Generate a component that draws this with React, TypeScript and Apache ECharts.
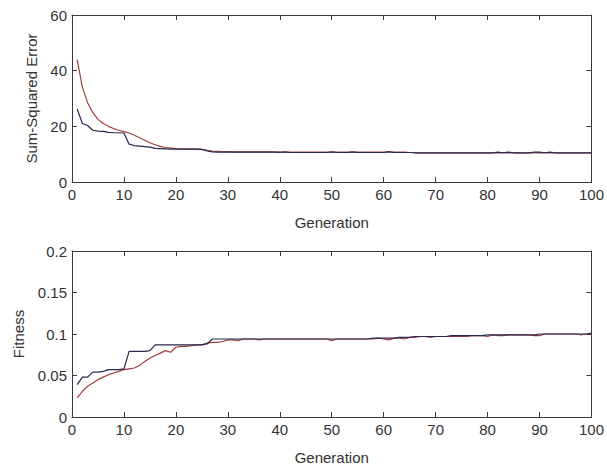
import React, { useEffect, useRef } from "react";
import * as echarts from "echarts";

const generations: number[] = Array.from({ length: 100 }, (_, i) => i + 1);

const xTicks = [0, 10, 20, 30, 40, 50, 60, 70, 80, 90, 100];

const sseBlue = [
  26.2, 21.0, 20.3, 18.6, 18.3, 18.2, 17.8, 17.7, 17.7, 17.6,
  13.6, 13.1, 12.9, 12.7, 12.5, 12.1, 12.0, 11.9, 11.8, 11.8,
  11.8, 11.8, 11.8, 11.8, 11.7, 11.2, 10.8, 10.7, 10.7, 10.7,
  10.7, 10.7, 10.7, 10.7, 10.7, 10.7, 10.7, 10.7, 10.7, 10.6,
  10.8, 10.6, 10.6, 10.6, 10.6, 10.6, 10.6, 10.6, 10.6, 10.8,
  10.6, 10.6, 10.6, 10.8, 10.6, 10.6, 10.6, 10.6, 10.6, 10.6,
  10.9, 10.6, 10.6, 10.6, 10.6, 10.5, 10.5, 10.5, 10.5, 10.5,
  10.5, 10.5, 10.5, 10.5, 10.5, 10.5, 10.5, 10.5, 10.5, 10.5,
  10.5, 10.7, 10.5, 10.7, 10.5, 10.5, 10.5, 10.5, 10.7, 10.7,
  10.5, 10.7, 10.5, 10.5, 10.5, 10.5, 10.5, 10.5, 10.5, 10.5,
];

const sseRed = [
  44.0, 34.0, 28.5, 25.0, 22.5, 21.0, 20.0, 19.2, 18.6, 18.1,
  17.6, 16.8, 15.9, 15.0, 14.1, 13.4, 12.8, 12.4, 12.2, 12.0,
  11.9, 11.8, 11.8, 11.8, 11.7, 11.4, 11.1, 11.0, 10.9, 10.9,
  10.8, 10.8, 10.8, 10.8, 10.8, 10.8, 10.8, 10.8, 10.8, 10.8,
  10.7, 10.7, 10.7, 10.7, 10.7, 10.7, 10.7, 10.7, 10.7, 10.7,
  10.7, 10.7, 10.7, 10.7, 10.7, 10.7, 10.7, 10.7, 10.7, 10.7,
  10.7, 10.7, 10.7, 10.7, 10.6, 10.5, 10.5, 10.5, 10.5, 10.5,
  10.5, 10.5, 10.5, 10.5, 10.5, 10.5, 10.5, 10.5, 10.5, 10.5,
  10.5, 10.5, 10.5, 10.5, 10.5, 10.5, 10.5, 10.5, 10.5, 10.5,
  10.5, 10.5, 10.5, 10.5, 10.5, 10.5, 10.5, 10.5, 10.5, 10.5,
];

const fitBlue = [
  0.039, 0.048, 0.048, 0.054, 0.054, 0.055, 0.057, 0.057, 0.057, 0.058,
  0.079, 0.079, 0.079, 0.079, 0.080, 0.087, 0.087, 0.087, 0.087, 0.087,
  0.087, 0.087, 0.087, 0.087, 0.087, 0.088, 0.094, 0.094, 0.094, 0.094,
  0.094, 0.094, 0.094, 0.094, 0.094, 0.094, 0.094, 0.094, 0.094, 0.094,
  0.094, 0.094, 0.094, 0.094, 0.094, 0.094, 0.094, 0.094, 0.094, 0.094,
  0.094, 0.094, 0.094, 0.094, 0.094, 0.094, 0.094, 0.095, 0.095, 0.095,
  0.095, 0.095, 0.096, 0.096, 0.096, 0.097, 0.097, 0.097, 0.097, 0.097,
  0.097, 0.097, 0.098, 0.098, 0.098, 0.098, 0.098, 0.098, 0.098, 0.099,
  0.099, 0.099, 0.099, 0.099, 0.099, 0.099, 0.099, 0.099, 0.099, 0.100,
  0.100, 0.100, 0.100, 0.100, 0.100, 0.100, 0.100, 0.100, 0.100, 0.101,
];

const fitRed = [
  0.023, 0.031, 0.037, 0.041, 0.045, 0.048, 0.051, 0.053, 0.055, 0.057,
  0.058, 0.059, 0.062, 0.067, 0.071, 0.074, 0.077, 0.080, 0.078, 0.084,
  0.085, 0.085, 0.086, 0.087, 0.087, 0.089, 0.090, 0.090, 0.091, 0.093,
  0.093, 0.092, 0.094, 0.094, 0.094, 0.093, 0.094, 0.094, 0.094, 0.094,
  0.094, 0.094, 0.094, 0.094, 0.094, 0.094, 0.094, 0.094, 0.094, 0.092,
  0.094, 0.094, 0.094, 0.094, 0.094, 0.094, 0.094, 0.094, 0.095, 0.094,
  0.093, 0.095, 0.095, 0.094, 0.096, 0.096, 0.097, 0.097, 0.096, 0.097,
  0.097, 0.097, 0.097, 0.097, 0.097, 0.097, 0.098, 0.098, 0.098, 0.097,
  0.099, 0.098, 0.098, 0.099, 0.099, 0.099, 0.099, 0.099, 0.098, 0.098,
  0.100, 0.100, 0.100, 0.100, 0.100, 0.100, 0.100, 0.099, 0.100, 0.100,
];

const FONT = "'Liberation Sans', Arial, sans-serif";
const AXIS_COLOR = "#3a3a3a";
const TEXT_COLOR = "#333333";
const BLUE = "#262850";
const RED = "#a0403e";

function pairs(ys: number[]) {
  return generations.map((g, i) => [g, ys[i]]);
}

export default function App() {
  const ref = useRef<HTMLDivElement>(null);
  useEffect(() => {
    if (!ref.current) return;
    const chart = echarts.init(ref.current, undefined, { renderer: "svg" });

    const line = { show: true, onZero: false, lineStyle: { color: AXIS_COLOR, width: 1 } };
    const tick = { show: true, inside: true, length: 5, lineStyle: { color: AXIS_COLOR, width: 1 } };
    const label = { color: TEXT_COLOR, fontSize: 15, fontFamily: FONT };

    const xBase = (gridIndex: number, nameGap: number) => ({
      type: "value",
      gridIndex,
      min: xTicks[0],
      max: xTicks[xTicks.length - 1],
      interval: 10,
      position: "bottom",
      axisLine: line,
      axisTick: tick,
      axisLabel: { ...label, margin: 5 },
      splitLine: { show: false },
      name: "Generation",
      nameLocation: "middle",
      nameGap,
      nameTextStyle: { color: TEXT_COLOR, fontSize: 15, fontFamily: FONT },
    });
    const xTop = (gridIndex: number) => ({
      type: "value",
      gridIndex,
      min: 0,
      max: 100,
      interval: 10,
      position: "top",
      axisLine: line,
      axisTick: tick,
      axisLabel: { show: false },
      splitLine: { show: false },
    });
    const yLeft = (gridIndex: number, max: number, interval: number, name: string, nameGap: number) => ({
      type: "value",
      gridIndex,
      min: 0,
      max,
      interval,
      position: "left",
      axisLine: line,
      axisTick: tick,
      axisLabel: { ...label, margin: 5 },
      splitLine: { show: false },
      name,
      nameLocation: "middle",
      nameGap,
      nameTextStyle: { color: TEXT_COLOR, fontSize: 15, fontFamily: FONT },
    });
    const yRight = (gridIndex: number, max: number, interval: number) => ({
      type: "value",
      gridIndex,
      min: 0,
      max,
      interval,
      position: "right",
      axisLine: line,
      axisTick: tick,
      axisLabel: { show: false },
      splitLine: { show: false },
    });

    const series = (name: string, data: number[], color: string, xi: number, yi: number) => ({
      type: "line",
      name,
      data: pairs(data),
      xAxisIndex: xi,
      yAxisIndex: yi,
      showSymbol: false,
      symbol: "none",
      lineStyle: { color, width: 1.2 },
      itemStyle: { color },
    });

    chart.setOption({
      animation: false,
      backgroundColor: "#ffffff",
      grid: [
        { left: 72, top: 15, width: 523, height: 167 },
        { left: 72, top: 251, width: 523, height: 166 },
      ],
      xAxis: [xBase(0, 33), xTop(0), xBase(1, 33), xTop(1)],
      yAxis: [
        yLeft(0, 60, 20, "Sum-Squared Error", 31),
        yRight(0, 60, 20),
        yLeft(1, 0.2, 0.05, "Fitness", 46),
        yRight(1, 0.2, 0.05),
      ],
      series: [
        series("Average (SSE)", sseRed, RED, 0, 0),
        series("Best (SSE)", sseBlue, BLUE, 0, 0),
        series("Average (Fitness)", fitRed, RED, 2, 2),
        series("Best (Fitness)", fitBlue, BLUE, 2, 2),
      ],
    });
    return () => chart.dispose();
  }, []);

  return (
    <div
      ref={ref}
      style={{ position: "fixed", left: 0, top: 0, width: 607, height: 469, background: "#fff" }}
    />
  );
}
